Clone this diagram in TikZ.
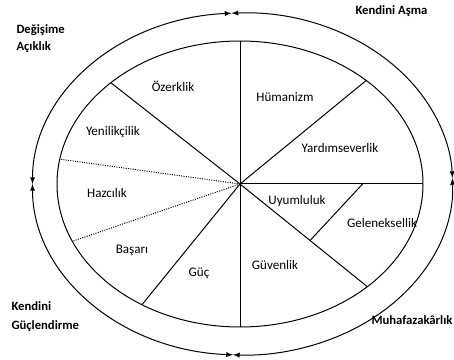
\documentclass[tikz,border=0pt]{standalone}
\usepackage{fontspec}
\setmainfont{Carlito}
\usetikzlibrary{arrows,calc}
\tikzset{every picture/.style={line width=0.75pt}}
\tikzset{
value/.style={inner sep=0.75pt,font=\fontsize{9.8}{11}\selectfont},
dimension/.style={anchor=west,inner sep=0.75pt,font=\fontsize{9.5}{11}\selectfont\bfseries},
ring/.style={latex-latex}}

\begin{document}
\begin{tikzpicture}[x=0.75pt,y=0.75pt,yscale=-1,xscale=1]
\useasboundingbox (0,0) rectangle (454,360);

\coordinate (ic) at (240,184);
\coordinate (oc) at (242.5,184);

%Shape: Ellipse [inner]
\draw   (ic) ellipse [x radius=183, y radius=143];

%Points on inner ellipse
\coordinate (up) at ($(ic)+(-90:183 and 143)$);
\coordinate (ur) at ($(ic)+(-46.4:183 and 143)$);
\coordinate (rt) at ($(ic)+(0:183 and 143)$);
\coordinate (lr) at ($(ic)+(45.9:183 and 143)$);
\coordinate (dn) at ($(ic)+(90:183 and 143)$);
\coordinate (ll) at ($(ic)+(122.4:183 and 143)$);
\coordinate (dl) at ($(ic)+(156.4:183 and 143)$);
\coordinate (du) at ($(ic)+(-170:183 and 143)$);
\coordinate (ul) at ($(ic)+(-134.9:183 and 143)$);

%Straight Lines [spokes]
\draw    (ic) -- (up) ;
\draw    (ic) -- (ur) ;
\draw    (ic) -- (rt) ;
\draw    (ic) -- (lr) ;
\draw    (ic) -- (dn) ;
\draw    (ic) -- (ll) ;
\draw    (ic) -- (ul) ;
\draw [densely dotted]   (ic) -- (dl) ;
\draw [densely dotted]   (ic) -- (du) ;
%Straight Lines [split]
\draw    ($(ic)!0.67!(rt)$) -- ($(ic)!0.55!(lr)$) ;

%Points on outer ellipse
\coordinate (jtop) at ($(oc)+(-93:210 and 171)$);
\coordinate (jrt) at ($(oc)+(-2:210 and 171)$);
\coordinate (jdn) at ($(oc)+(92.6:210 and 171)$);
\coordinate (jlt) at ($(oc)+(180:210 and 171)$);

%Curve Lines [outer ring]
\draw [ring]   (jtop) arc [start angle=-93, end angle=-2, x radius=210, y radius=171] ;
\draw [ring]   (jrt) arc [start angle=-2, end angle=92.6, x radius=210, y radius=171] ;
\draw [ring]   (jdn) arc [start angle=92.6, end angle=180, x radius=210, y radius=171] ;
\draw [ring]   (jlt) arc [start angle=180, end angle=267, x radius=210, y radius=171] ;

% Text Node
\node [value] (ozerklik) at (173,86) {Özerklik};
% Text Node
\node [value] (yenilikcilik) at (113,132) {Yenilikçilik};
% Text Node
\node [value] (humanizm) at (285,97) {Hümanizm};
% Text Node
\node [value] (yardimseverlik) at (340,148) {Yardımseverlik};
% Text Node
\node [value] (hazcilik) at (107,193) {Hazcılık};
% Text Node
\node [value] (basari) at (132,250) {Başarı};
% Text Node
\node [value] (guc) at (199,273) {Güç};
% Text Node
\node [value] (uyumluluk) at (297,201) {Uyumluluk};
% Text Node
\node [value] (geleneksellik) at (382,223) {Geleneksellik};
% Text Node
\node [value] (guvenlik) at (275,265) {Güvenlik};

% Text Node
\node [dimension] (degisime) at (15,30) {Değişime};
\node [dimension] (aciklik) at (15,47) {Açıklık};
% Text Node
\node [dimension] (asma) at (354,11) {Kendini Aşma};
% Text Node
\node [dimension] (kendini) at (10,306) {Kendini};
\node [dimension] (guclendirme) at (10,326) {Güçlendirme};
% Text Node
\node [dimension] (muhafazakarlik) at (370,320) {Muhafazakârlık};
\end{tikzpicture}
\end{document}
